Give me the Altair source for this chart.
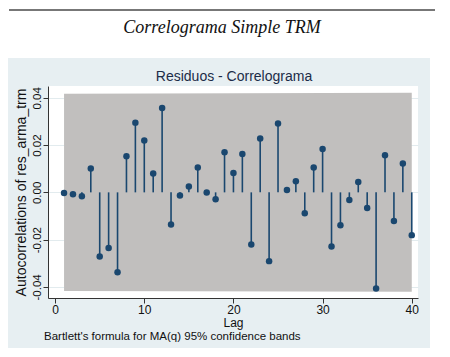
import altair as alt
import pandas as pd

# ---- data ----
lags = list(range(1, 41))
ac = [-0.0003, -0.0008, -0.0016, 0.0101, -0.0271, -0.0235, -0.0338, 0.0153, 0.0295, 0.0219,
      0.0080, 0.0357, -0.0136, -0.0013, 0.0025, 0.0105, -0.0001, -0.0029, 0.0170, 0.0082,
      0.0162, -0.0221, 0.0228, -0.0291, 0.0291, 0.0010, 0.0047, -0.0088, 0.0105, 0.0183,
      -0.0229, -0.0139, -0.0032, 0.0044, -0.0066, -0.0407, 0.0157, -0.0121, 0.0122, -0.0181]
band_lags = [1, 40]
band_hi = [0.0417, 0.0421]
band_lo = [-0.0417, -0.0421]
y_ticks = [-0.04, -0.02, 0.0, 0.02, 0.04]
x_ticks = [0, 10, 20, 30, 40]

main_title = "Correlograma Simple TRM"
sub_title = "Residuos - Correlograma"
y_title = "Autocorrelations of res_arma_trm"
x_title = "Lag"
note = "Bartlett's formula for MA(q) 95% confidence bands"

df = pd.DataFrame({"lag": lags, "ac": ac})
band = pd.DataFrame({"lag": band_lags, "hi": band_hi, "lo": band_lo})
one = alt.Data(values=[{"k": 1}])

W, H = 370, 212
PANEL = "#e7eff2"
NAVY = "#1a476f"
FONT = "Liberation Sans"

x_scale = alt.Scale(domain=[-0.8, 40.7], nice=False, zero=False)
y_scale = alt.Scale(domain=[-0.0447, 0.045], nice=False, zero=False)

x_axis = alt.Axis(values=x_ticks, title=x_title, tickSize=5, labelPadding=1,
                  titlePadding=2, grid=False, labelFontSize=12, titleFontSize=12,
                  labelColor="#111111", titleColor="#111111", domainColor="#333333",
                  tickColor="#333333", labelFont=FONT, titleFont=FONT,
                  titleFontWeight="normal", labelFlush=False)
y_axis = alt.Axis(values=y_ticks, title=y_title, tickSize=5, labelPadding=1,
                  titlePadding=3, grid=True, gridColor="#e2ebee",
                  labelExpr="replace(format(datum.value, '.2f'), '\u2212', '-')",
                  labelAngle=-90, labelFontSize=11.5, titleFontSize=14,
                  labelColor="#111111", titleColor="#111111", domainColor="#333333",
                  tickColor="#333333", labelFont=FONT, titleFont=FONT,
                  titleFontWeight="normal", labelFlush=False)

# decorations
top_white = alt.Chart(one).mark_rect(color="white").encode(
    x=alt.value(-40), x2=alt.value(394), y=alt.value(-78), y2=alt.value(-28))
right_white = alt.Chart(one).mark_rect(color="white").encode(
    x=alt.value(382), x2=alt.value(394), y=alt.value(-28), y2=alt.value(270))
top_rule = alt.Chart(one).mark_rule(color="#4a4a4a", strokeWidth=1.6).encode(
    x=alt.value(-39), x2=alt.value(387), y=alt.value(-76))
t_main = alt.Chart(one).mark_text(text=main_title, font="Liberation Serif", fontStyle="italic",
                                  fontSize=18, color="#111111", align="center",
                                  baseline="alphabetic").encode(
    x=alt.value(174), y=alt.value(-53))
t_sub = alt.Chart(one).mark_text(text=sub_title, font=FONT, fontSize=14, color="#1c2c48",
                                 align="center", baseline="alphabetic").encode(
    x=alt.value(186), y=alt.value(-5))
t_note = alt.Chart(one).mark_text(text=note, font=FONT, fontSize=11.5, color="#111111",
                                  align="left", baseline="middle").encode(
    x=alt.value(-4), y=alt.value(251))

band_area = alt.Chart(band).mark_area(color="#c1bfbe", opacity=1).encode(
    x=alt.X("lag:Q", scale=x_scale, axis=x_axis),
    y=alt.Y("hi:Q", scale=y_scale, axis=y_axis),
    y2="lo:Q")
stems = alt.Chart(df).mark_rule(color=NAVY, strokeWidth=1.6).encode(
    x=alt.X("lag:Q", scale=x_scale, axis=x_axis),
    y=alt.Y("ac:Q", scale=y_scale, axis=y_axis),
    y2=alt.datum(0))
dots = alt.Chart(df).mark_circle(color=NAVY, size=42, opacity=1).encode(
    x=alt.X("lag:Q", scale=x_scale, axis=x_axis),
    y=alt.Y("ac:Q", scale=y_scale, axis=y_axis))

chart = alt.layer(top_white, right_white, top_rule, t_main, t_sub, band_area, stems, dots,
                  t_note).properties(
    width=W, height=H,
    background=PANEL,
    padding={"left": 40, "top": 78, "right": 24, "bottom": 50},
    autosize=alt.AutoSizeParams(type="none"),
).configure_view(fill="white", stroke=None)

chart.save("out.html", embed_options={"renderer": "svg", "actions": False})
